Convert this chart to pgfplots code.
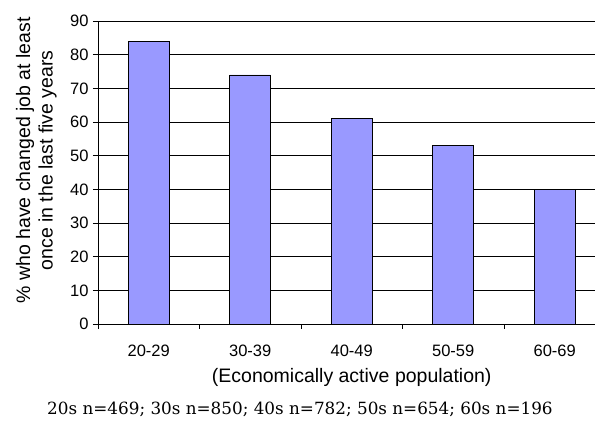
\documentclass[border=0pt]{standalone}
\usepackage{pgfplots}
\pgfplotsset{compat=1.18}
\usepackage{fontspec}
\setmainfont{Liberation Sans}
\newfontfamily\capfont{DejaVu Serif}
\definecolor{barblue}{HTML}{9999FF}
\begin{document}
\begin{tikzpicture}
\useasboundingbox (-98pt,-98pt) rectangle (497pt,324pt);
\begin{axis}[
  scale only axis,
  width=497pt, height=303pt,
  xmin=-0.5, xmax=4.397,
  ymin=0, ymax=90,
  ytick={0,10,...,90},
  xtick={0,1,2,3,4},
  xticklabels={20-29,30-39,40-49,50-59,60-69},
  minor xtick={-0.5,0.5,1.5,2.5,3.5},
  major x tick style={draw=none},
  minor tick length=5pt,
  major tick length=5pt,
  tick align=outside,
  axis x line*=bottom,
  axis y line*=left,
  axis line style={-, black, line width=0.8pt},
  ymajorgrids,
  grid style={black, line width=0.7pt},
  tick style={black, line width=0.7pt},
  ticklabel style={font=\fontsize{16.5}{18}\selectfont},
  /pgf/number format/assume math mode=true,
  yticklabel style={xshift=-1pt},
  xticklabel style={yshift=-12pt},
  xlabel={(Economically active population)},
  xlabel style={at={(axis cs:2,0)}, anchor=center, yshift=-53pt, font=\fontsize{19.5}{22}\selectfont},
  ylabel={\% who have changed job at least\\once in the last five years},
  ylabel style={at={(axis description cs:-0.124,0.54)}, anchor=center, align=center, font=\fontsize{19.5}{22.5}\selectfont},
  clip=false,
]
\addplot[ybar, bar width=41pt, fill=barblue, draw=black, line width=0.7pt] coordinates {
  (0,84) (1,74) (2,61) (3,53) (4,40)
};
\end{axis}
\node[font=\capfont\fontsize{16.8}{20}\selectfont] at (202pt,-85pt) {20s n=469; 30s n=850; 40s n=782; 50s n=654; 60s n=196};
\end{tikzpicture}
\end{document}
